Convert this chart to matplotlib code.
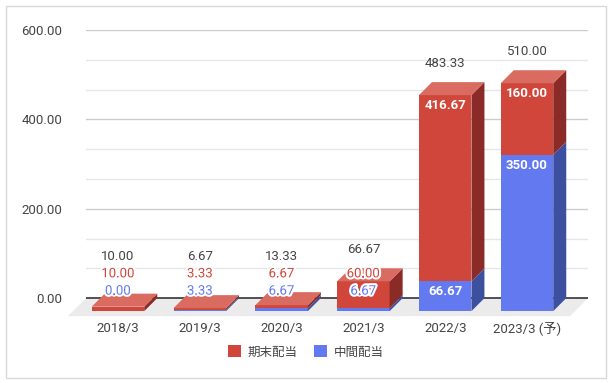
import matplotlib.pyplot as plt
import matplotlib.patheffects as pe
from matplotlib.patches import Polygon, Patch, Rectangle

# datos del grafico
categorias = ['2018/3', '2019/3', '2020/3', '2021/3', '2022/3', '2023/3 (予)']
chukan = [0.00, 3.33, 6.67, 6.67, 66.67, 350.00]      # 中間配当
kimatsu = [10.00, 3.33, 6.67, 60.00, 416.67, 160.00]  # 期末配当
totales = [10.00, 6.67, 13.33, 66.67, 483.33, 510.00]
series = ['期末配当', '中間配当']

ROJO, ROJO_TOP, ROJO_LADO = '#d0463b', '#d96b60', '#8a2b27'
AZUL, AZUL_TOP, AZUL_LADO = '#6379f0', '#8295f3', '#3d50a0'
GRIS = '#444444'
FUENTE = ['Roboto', 'Noto Sans CJK JP', 'DejaVu Sans']

plt.rcParams['font.family'] = FUENTE

W, H = 613, 383
fig = plt.figure(figsize=(W / 100, H / 100), dpi=100)
ax = fig.add_axes([86 / W, (H - 316) / H, 502 / W, 286 / H])

YMIN, YMAX = -40, 600
XMIN = -0.55
PASO = 81.8                      # px por categoria
ax.set_xlim(XMIN, XMIN + 502 / PASO)
ax.set_ylim(YMIN, YMAX)

k = 286 / (YMAX - YMIN)          # px por unidad
dx = 13 / PASO                   # profundidad 3D
dy = 13 / k
ancho = 52.5 / PASO

# lineas de cuadricula
for i in range(1, 10):
    v = i * 600 / 9
    c = '#cccccc' if i % 3 == 0 else '#e6e6e6'
    ax.axhline(v, color=c, lw=1, zorder=0)

# piso
x0, x1 = ax.get_xlim()
fdx, fdy = 18 / PASO, 18 / k
ax.add_patch(Polygon([(x0, 0), (x1, 0), (x1 - fdx, -fdy), (x0 - fdx, -fdy)],
                     closed=True, fc='#ebebeb', ec='none', zorder=1, clip_on=False))
ax.plot([x0, x1], [0, 0], color='#333333', lw=1.2, zorder=2, solid_capstyle='butt')


def segmento(xc, b, t, frente, top, lado, con_tapa):
    if t <= b:
        return
    xl, xr = xc - ancho / 2, xc + ancho / 2
    ax.add_patch(Polygon([(xl, b - dy), (xr, b - dy), (xr, t - dy), (xl, t - dy)],
                         closed=True, fc=frente, ec='none', zorder=3, clip_on=False))
    ax.add_patch(Polygon([(xr, b - dy), (xr + dx, b), (xr + dx, t), (xr, t - dy)],
                         closed=True, fc=lado, ec='none', zorder=3, clip_on=False))
    if con_tapa:
        ax.add_patch(Polygon([(xl, t - dy), (xr, t - dy), (xr + dx, t), (xl + dx, t)],
                             closed=True, fc=top, ec='none', zorder=3, clip_on=False))


halo = [pe.withStroke(linewidth=3, foreground='white')]
for i in range(len(categorias)):
    xc = i - dx
    segmento(xc, 0, chukan[i], AZUL, AZUL_TOP, AZUL_LADO, False)
    segmento(xc, chukan[i], totales[i], ROJO, ROJO_TOP, ROJO_LADO, True)

    # etiquetas
    siguiente = 7 / k
    for b, t, v, col in [(0, chukan[i], chukan[i], AZUL),
                         (chukan[i], totales[i], kimatsu[i], ROJO)]:
        if v >= 62:
            ax.text(xc, t - dy - 10.5 / k, f'{v:.2f}', ha='center', va='center',
                    color='white', fontsize=9.5, fontweight='bold', zorder=5)
        else:
            ax.text(xc, siguiente, f'{v:.2f}', ha='center', va='center',
                    color=col, fontsize=9.5, zorder=5, path_effects=halo)
            siguiente += 17.3 / k
    yt = max(totales[i] + 19 / k, siguiente)
    ax.text(xc, yt, f'{totales[i]:.2f}', ha='center', va='center',
            color=GRIS, fontsize=9.5, zorder=5)

# ejes
ax.set_yticks([0, 200, 400, 600])
ax.set_yticklabels([f'{v:.2f}' for v in [0, 200, 400, 600]])
ax.set_xticks([i - dx for i in range(len(categorias))])
ax.set_xticklabels(categorias)
ax.tick_params(axis='y', length=0, pad=17, labelsize=9.5, labelcolor=GRIS)
ax.tick_params(axis='x', length=0, pad=4.5, labelsize=9.5, labelcolor=GRIS)
for s in ax.spines.values():
    s.set_visible(False)
ax.set_facecolor('none')

handles = [Patch(fc=ROJO, ec='none'), Patch(fc=AZUL, ec='none')]
fig.legend(handles, series, loc='center', bbox_to_anchor=(306 / W, (H - 352) / H),
           ncol=2, frameon=False, fontsize=9, handlelength=1.05, handleheight=1.05,
           handletextpad=0.55, columnspacing=1.3, labelcolor=GRIS)

fig.patches.append(Rectangle((6 / W, 5 / H), 600 / W, 372 / H, transform=fig.transFigure,
                             fill=False, ec='#d9d9d9', lw=1))

fig.savefig('out.png', dpi=100)
